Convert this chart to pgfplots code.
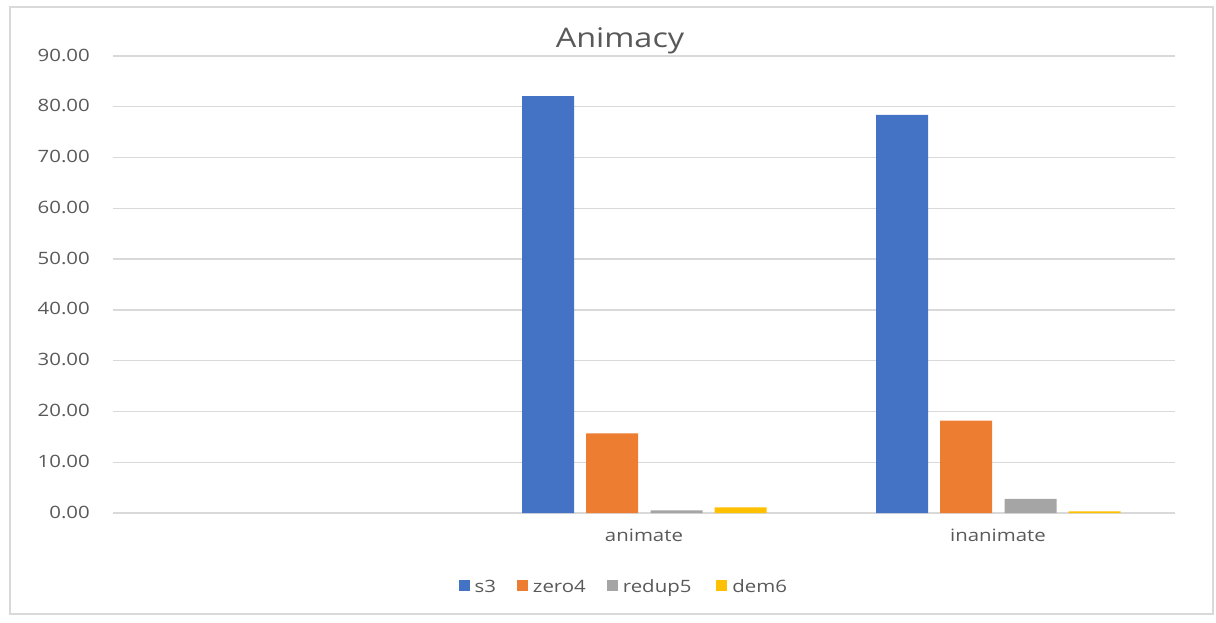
\documentclass[border=0pt]{standalone}
\usepackage{pgfplots}
\pgfplotsset{compat=1.18}
\usepackage{fontspec}
\setmainfont{Open Sans}[FakeStretch=1.2]
\definecolor{cS}{HTML}{4472C4}
\definecolor{cZ}{HTML}{ED7D31}
\definecolor{cR}{HTML}{A5A5A5}
\definecolor{cD}{HTML}{FFC000}
\definecolor{gridc}{HTML}{D9D9D9}
\definecolor{txt}{HTML}{595959}
\begin{document}
\begin{tikzpicture}[x=1pt,y=1pt]
\useasboundingbox (0,0) rectangle (1216,622);
\draw[gridc, line width=1.5pt] (10,8) rectangle (1213,615);
\node[anchor=base, text=txt, inner sep=0] at (620,574) {\fontsize{27}{30}\selectfont Animacy};
\begin{axis}[
  at={(113pt,109pt)}, anchor=south west,
  scale only axis, width=1062pt, height=457pt,
  xmin=-0.5, xmax=2.5, ymin=0, ymax=90,
  axis line style={draw=none},
  major tick length=0pt,
  ytick={0,10,...,90},
  xtick={0,1,2},
  xticklabels={,animate,inanimate},
  ymajorgrids, grid style={gridc, line width=1.3pt},
  /pgf/number format/fixed, /pgf/number format/fixed zerofill, /pgf/number format/precision=2, /pgf/number format/assume math mode=true,
  yticklabel style={anchor=base east, inner sep=0pt, xshift=-23pt, yshift=-5pt, text=txt, font=\fontsize{17}{20}\selectfont},
  xticklabel style={anchor=base, inner sep=0pt, yshift=-28pt, text=txt, font=\fontsize{17}{20}\selectfont},
  ybar, bar width=0.147,
  legend columns=4,
  legend style={at={(0.481,-0.162)}, anchor=center, draw=none, fill=none,
    font=\fontsize{17}{20}\selectfont, text=txt},
  legend image code/.code={\fill[#1] (0pt,-4pt) rectangle (11pt,7pt); \path (14pt,0pt);},
]
\addplot[fill=cS, draw=none, bar shift=-0.271] coordinates {(1,82.1) (2,78.4)};
\addplot[fill=cZ, draw=none, bar shift=-0.090] coordinates {(1,15.7) (2,18.2)};
\addplot[fill=cR, draw=none, bar shift=0.092] coordinates {(1,0.5) (2,2.8)};
\addplot[fill=cD, draw=none, bar shift=0.273] coordinates {(1,1.1) (2,0.3)};
\legend{s3\hspace*{19pt},zero4\hspace*{19pt},redup5\hspace*{23pt},dem6}
\end{axis}
\end{tikzpicture}
\end{document}
